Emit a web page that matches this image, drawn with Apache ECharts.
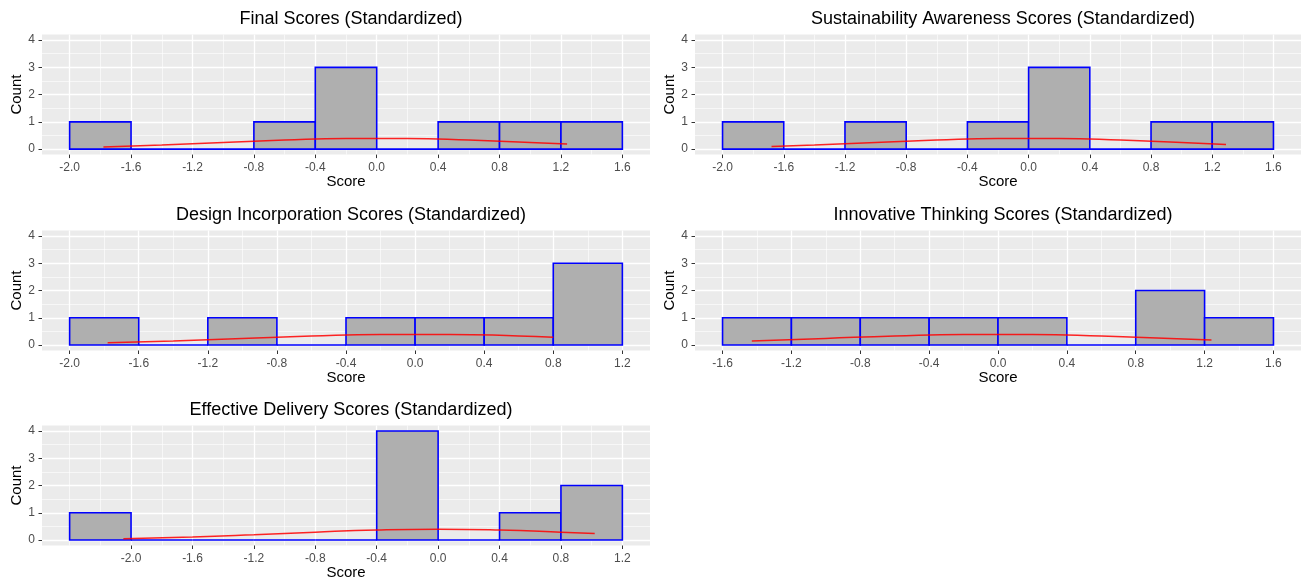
<!DOCTYPE html>
<html>
<head>
<meta charset="utf-8">
<script src="https://cdn.jsdelivr.net/npm/echarts@6/dist/echarts.min.js"></script>
<style>
html,body{margin:0;padding:0;background:#fff;}
#chart{width:1302px;height:581px;}
</style>
</head>
<body>
<div id="chart"></div>
<script>
// ---------- data ----------
const titles = [
  "Final Scores (Standardized)",
  "Sustainability Awareness Scores (Standardized)",
  "Design Incorporation Scores (Standardized)",
  "Innovative Thinking Scores (Standardized)",
  "Effective Delivery Scores (Standardized)"
];

// histogram bin edges and counts
const finalEdges = [-2.0,-1.6,-1.2,-0.8,-0.4,0.0,0.4,0.8,1.2,1.6];
const finalCounts = [1,0,0,1,3,0,1,1,1];
const sustainEdges = [-2.0,-1.6,-1.2,-0.8,-0.4,0.0,0.4,0.8,1.2,1.6];
const sustainCounts = [1,0,1,0,1,3,0,1,1];
const designEdges = [-2.0,-1.6,-1.2,-0.8,-0.4,0.0,0.4,0.8,1.2];
const designCounts = [1,0,1,0,1,1,1,3];
const innovEdges = [-1.6,-1.2,-0.8,-0.4,0.0,0.4,0.8,1.2,1.6];
const innovCounts = [1,1,1,1,1,0,2,1];
const deliveryEdges = [-2.4,-2.0,-1.6,-1.2,-0.8,-0.4,0.0,0.4,0.8,1.2];
const deliveryCounts = [1,0,0,0,0,4,0,1,2];

// density curves
const finalCurveX = [-1.78,-1.4,-1.0,-0.6,-0.2,0.2,0.6,1.0,1.24];
const finalCurveY = [0.082,0.150,0.242,0.333,0.391,0.391,0.333,0.242,0.185];
const sustainCurveX = [-1.68,-1.4,-1.0,-0.6,-0.2,0.2,0.6,1.0,1.29];
const sustainCurveY = [0.097,0.150,0.242,0.333,0.391,0.391,0.333,0.242,0.173];
const designCurveX = [-1.78,-1.4,-1.0,-0.6,-0.2,0.2,0.6,0.8];
const designCurveY = [0.082,0.150,0.242,0.333,0.391,0.391,0.333,0.290];
const innovCurveX = [-1.43,-1.0,-0.6,-0.2,0.2,0.6,1.0,1.24];
const innovCurveY = [0.144,0.242,0.333,0.391,0.391,0.333,0.242,0.185];
const deliveryCurveX = [-2.05,-1.6,-1.2,-0.8,-0.4,0.0,0.4,0.8,1.02];
const deliveryCurveY = [0.049,0.111,0.194,0.290,0.368,0.399,0.368,0.290,0.237];

// axis ranges and ticks
const xRanges = [[-2.18,1.78],[-2.18,1.78],[-2.16,1.36],[-1.76,1.76],[-2.58,1.38]];
const finalTicks = [-2.0,-1.6,-1.2,-0.8,-0.4,0.0,0.4,0.8,1.2,1.6];
const sustainTicks = [-2.0,-1.6,-1.2,-0.8,-0.4,0.0,0.4,0.8,1.2,1.6];
const designTicks = [-2.0,-1.6,-1.2,-0.8,-0.4,0.0,0.4,0.8,1.2];
const innovTicks = [-1.6,-1.2,-0.8,-0.4,0.0,0.4,0.8,1.2,1.6];
const deliveryTicks = [-2.0,-1.6,-1.2,-0.8,-0.4,0.0,0.4,0.8,1.2];
const finalMinor = [-1.8,-1.4,-1.0,-0.6,-0.2,0.2,0.6,1.0,1.4];
const sustainMinor = [-1.8,-1.4,-1.0,-0.6,-0.2,0.2,0.6,1.0,1.4];
const designMinor = [-1.8,-1.4,-1.0,-0.6,-0.2,0.2,0.6,1.0];
const innovMinor = [-1.4,-1.0,-0.6,-0.2,0.2,0.6,1.0,1.4];
const deliveryMinor = [-2.4,-2.2,-1.8,-1.4,-1.0,-0.6,-0.2,0.2,0.6,1.0];
const yTicks = [0,1,2,3,4];
const yMinor = [0.5,1.5,2.5,3.5];
const yRange = [-0.2,4.2];

// ---------- build ----------
const panels = [
  {edges: finalEdges, counts: finalCounts, cx: finalCurveX, cy: finalCurveY, ticks: finalTicks, minor: finalMinor},
  {edges: sustainEdges, counts: sustainCounts, cx: sustainCurveX, cy: sustainCurveY, ticks: sustainTicks, minor: sustainMinor},
  {edges: designEdges, counts: designCounts, cx: designCurveX, cy: designCurveY, ticks: designTicks, minor: designMinor},
  {edges: innovEdges, counts: innovCounts, cx: innovCurveX, cy: innovCurveY, ticks: innovTicks, minor: innovMinor},
  {edges: deliveryEdges, counts: deliveryCounts, cx: deliveryCurveX, cy: deliveryCurveY, ticks: deliveryTicks, minor: deliveryMinor}
];

const colLeft = [42, 695];
const colWidth = [608, 606];
const rowTop = [34.6, 230.5, 425.5];
const panelH = 120;
const titleTop = [5, 201, 396];
const FONT = "'Liberation Sans', Arial, Helvetica, sans-serif";

const grid = [], xAxis = [], yAxis = [], series = [], title = [];

panels.forEach(function (p, i) {
  const col = i % 2, row = Math.floor(i / 2);
  grid.push({
    left: colLeft[col], top: rowTop[row], width: colWidth[col], height: panelH,
    show: true, backgroundColor: '#EBEBEB', borderWidth: 0, containLabel: false,
    outerBoundsMode: 'none'
  });
  title.push({
    text: titles[i],
    left: colLeft[col] + colWidth[col] / 2,
    top: titleTop[row],
    textAlign: 'center',
    textStyle: {fontFamily: FONT, fontSize: 18, fontWeight: 'normal', color: '#000'}
  });
  xAxis.push({
    gridIndex: i, type: 'value', min: xRanges[i][0], max: xRanges[i][1], position: 'bottom',
    axisLine: {show: false, onZero: false},
    axisTick: {show: true, length: 3.5, lineStyle: {color: '#333', width: 1}, customValues: p.ticks},
    axisLabel: {customValues: p.ticks, formatter: function (v) { return v.toFixed(1); },
      color: '#4D4D4D', fontSize: 12, fontFamily: FONT, margin: 7},
    splitLine: {show: true, lineStyle: {color: '#FFFFFF', width: 1.3}},
    name: 'Score', nameLocation: 'middle', nameGap: 18,
    nameTextStyle: {fontFamily: FONT, fontSize: 15, color: '#000'}
  });
  xAxis.push({
    gridIndex: i, type: 'value', min: xRanges[i][0], max: xRanges[i][1], position: 'bottom',
    axisLine: {show: false, onZero: false},
    axisTick: {show: false, customValues: p.minor},
    axisLabel: {show: false, customValues: p.minor},
    splitLine: {show: true, lineStyle: {color: '#FFFFFF', width: 0.6}}
  });
  yAxis.push({
    gridIndex: i, type: 'value', min: yRange[0], max: yRange[1], position: 'left',
    axisLine: {show: false, onZero: false},
    axisTick: {show: true, length: 3.5, lineStyle: {color: '#333', width: 1}, customValues: yTicks},
    axisLabel: {customValues: yTicks, formatter: function (v) { return String(v); },
      color: '#4D4D4D', fontSize: 12, fontFamily: FONT, margin: 7},
    splitLine: {show: true, lineStyle: {color: '#FFFFFF', width: 1.3}},
    name: 'Count', nameLocation: 'middle', nameGap: 17,
    nameTextStyle: {fontFamily: FONT, fontSize: 15, color: '#000'}
  });
  yAxis.push({
    gridIndex: i, type: 'value', min: yRange[0], max: yRange[1], position: 'left',
    axisLine: {show: false, onZero: false},
    axisTick: {show: false, customValues: yMinor},
    axisLabel: {show: false, customValues: yMinor},
    splitLine: {show: true, lineStyle: {color: '#FFFFFF', width: 0.6}}
  });

  const barData = p.counts.map(function (c, k) { return [p.edges[k], p.edges[k + 1], c]; });
  series.push({
    type: 'custom', xAxisIndex: 2 * i, yAxisIndex: 2 * i,
    data: barData, encode: {x: [0, 1], y: 2}, z: 2, silent: true,
    renderItem: function (params, api) {
      const a = api.coord([api.value(0), api.value(2)]);
      const b = api.coord([api.value(1), 0]);
      return {
        type: 'rect',
        shape: {x: a[0], y: a[1], width: b[0] - a[0], height: b[1] - a[1]},
        style: {fill: '#AFAFAF', stroke: '#0000FF', lineWidth: 1.6}
      };
    }
  });
  series.push({
    type: 'line', xAxisIndex: 2 * i, yAxisIndex: 2 * i,
    data: p.cx.map(function (x, k) { return [x, p.cy[k]]; }),
    smooth: true, showSymbol: false, symbol: 'none', z: 3, silent: true,
    lineStyle: {color: '#FF0000', width: 1.5, opacity: 0.85}
  });
});

const chart = echarts.init(document.getElementById('chart'), null, {renderer: 'canvas'});
chart.setOption({
  animation: false,
  backgroundColor: '#FFFFFF',
  title: title, grid: grid, xAxis: xAxis, yAxis: yAxis, series: series
});
</script>
</body>
</html>
